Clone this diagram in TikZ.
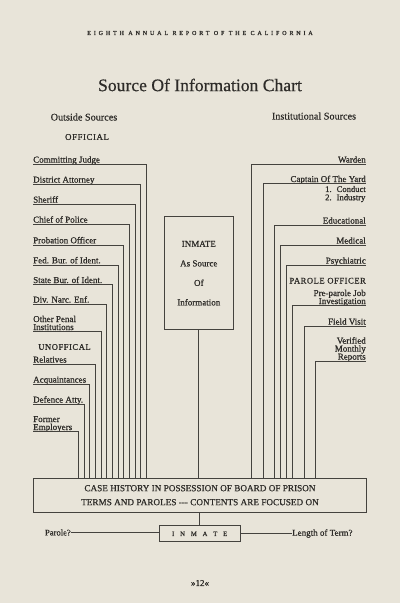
\documentclass[tikz,border=0pt]{standalone}
\usepackage{fontspec}
\setmainfont{Liberation Serif}
\newfontfamily\hdrfont[LetterSpace=46,FakeBold=1.2]{Liberation Serif}
\newfontfamily\headfont[FakeBold=0.5]{Liberation Serif}
\newfontfamily\capfont[LetterSpace=6,FakeBold=0.9]{Liberation Serif}
\newfontfamily\lblfont[FakeBold=0.9]{Liberation Serif}
\newfontfamily\boxfont[FakeBold=0.7]{Liberation Serif}
\definecolor{paper}{RGB}{232,228,217}
\definecolor{inkc}{RGB}{45,43,40}
\definecolor{linec}{RGB}{68,66,62}
\newcommand{\lsp}{\hspace{5.9pt}}
\tikzset{
  ink/.style={draw=linec, line width=1pt},
  lbl/.style={font=\lblfont\fontsize{9}{8}\selectfont, text=inkc, inner xsep=0pt, inner ysep=1.5pt, text depth=0pt},
  head/.style={font=\headfont\fontsize{10.2}{12}\selectfont, text=inkc, inner sep=0pt},
  caphead/.style={font=\capfont\fontsize{8.9}{10}\selectfont, text=inkc, inner sep=0pt},
  boxnode/.style={draw=linec, line width=1pt, inner sep=0pt, text=inkc, align=center},
}
\begin{document}
\begin{tikzpicture}[x=1pt,y=-1pt]
\fill[paper] (0,0) rectangle (400,603);
\useasboundingbox (0,0) rectangle (400,603);

% headers
\node[text=inkc, inner sep=0pt, font=\hdrfont\fontsize{6.1}{7}\selectfont] (hdr) at (200,33) {EIGHTH ANNUAL REPORT OF THE CALIFORNIA};
\node[text=inkc, inner sep=0pt, font=\headfont\fontsize{17.6}{20}\selectfont] (title) at (200,85) {Source Of Information Chart};
\node[head] (outs) at (84,117) {Outside Sources};
\node[head] (insts) at (314,116) {Institutional Sources};
\node[caphead] (off) at (87,137) {OFFICIAL};
\node[caphead, font=\capfont\fontsize{8.6}{10}\selectfont] (unoff) at (64.5,347) {UNOFFICAL};
\node[caphead, anchor=east, font=\capfont\fontsize{8.6}{10}\selectfont] (parole) at (366,280.7) {PAROLE OFFICER};

% main boxes
\node[boxnode, minimum width=333.4pt, minimum height=34.3pt, font=\boxfont\fontsize{9.2}{14}\selectfont] (case) at (200,495.2)
  {CASE HISTORY IN POSSESSION OF BOARD OF PRISON\\TERMS AND PAROLES --- CONTENTS ARE FOCUSED ON};
\node[boxnode, minimum width=68.5pt, minimum height=113.5pt, font=\boxfont\fontsize{9}{19.5}\selectfont] (src) at (198.8,273.2)
  {INMATE\\As Source\\Of\\Information};
\node[boxnode, minimum width=80.7pt, minimum height=16.3pt, font=\boxfont\fontsize{6.6}{8}\selectfont] (inm) at (199.7,533.8)
  {I\lsp N\lsp M\lsp A\lsp T\lsp E};

\draw[ink] (src.south) -- (src.south |- case.north);
\draw[ink] (case.south -| inm.north) -- (inm.north);

% left sources
\foreach \n/\y/\x/\t in {
  l1/164.3/146.3/{Committing Judge},
  l2/184.3/140.7/{District Attorney},
  l3/204.3/135.0/{Sheriff},
  l4/224.3/129.3/{Chief of Police},
  l5/245.0/123.7/{Probation Officer},
  l6/265.0/118.0/{Fed. Bur. of Ident.},
  l7/284.7/112.3/{State Bur. of Ident.},
  l8/304.3/106.7/{Div. Narc. Enf.},
  l9/331.7/101.0/{Other Penal\\Institutions},
  l10/364.3/95.3/{Relatives},
  l11/384.3/89.7/{Acquaintances},
  l12/404.3/84.0/{Defence Atty.},
  l13/431.7/78.3/{Former\\Employers}}
{
  \node[lbl, anchor=south west, align=left] (\n) at (33,\y) {\t};
  \draw[ink] (\n.south west) -| (\x,0 |- case.north);
}

% right sources
\foreach \n/\y/\x/\t in {
  r1/164.3/251.5/{Warden},
  r2/183.7/263.0/{Captain Of The Yard},
  r3/225.3/274.3/{Educational},
  r4/245.3/280.5/{Medical},
  r5/265.3/286.5/{Psychiatric},
  r6/305.7/292.5/{Pre-parole Job\\Investigation},
  r7/326.3/304.2/{Field Visit},
  r8/361.3/315.7/{Verified\\Monthly\\Reports}}
{
  \node[lbl, anchor=south east, align=right] (\n) at (366,\y) {\t};
  \draw[ink] (\n.south east) -| (\x,0 |- case.north);
}

\node[text=inkc, inner sep=0pt, anchor=north east, font=\lblfont\fontsize{8.6}{7.6}\selectfont] (capsub) at (366,185.8)
  {\renewcommand{\arraystretch}{1}\begin{tabular}{@{}r@{\hspace{5pt}}l@{}}1.&Conduct\\2.&Industry\end{tabular}};

% bottom
\node[text=inkc, inner sep=0pt, anchor=east, font=\lblfont\fontsize{8.6}{10}\selectfont] (par) at (71,532.5) {Parole?};
\node[text=inkc, inner sep=0pt, anchor=west, font=\lblfont\fontsize{9}{10}\selectfont] (len) at (292,533.5) {Length of Term?};
\draw[ink] (par.east) -- (par.east -| inm.west);
\draw[ink] (inm.east |- len.west) -- (len.west);

\node[text=inkc, inner sep=0pt, font=\lblfont\fontsize{9}{10}\selectfont] (pg) at (200,583) {»12«};
\end{tikzpicture}
\end{document}
